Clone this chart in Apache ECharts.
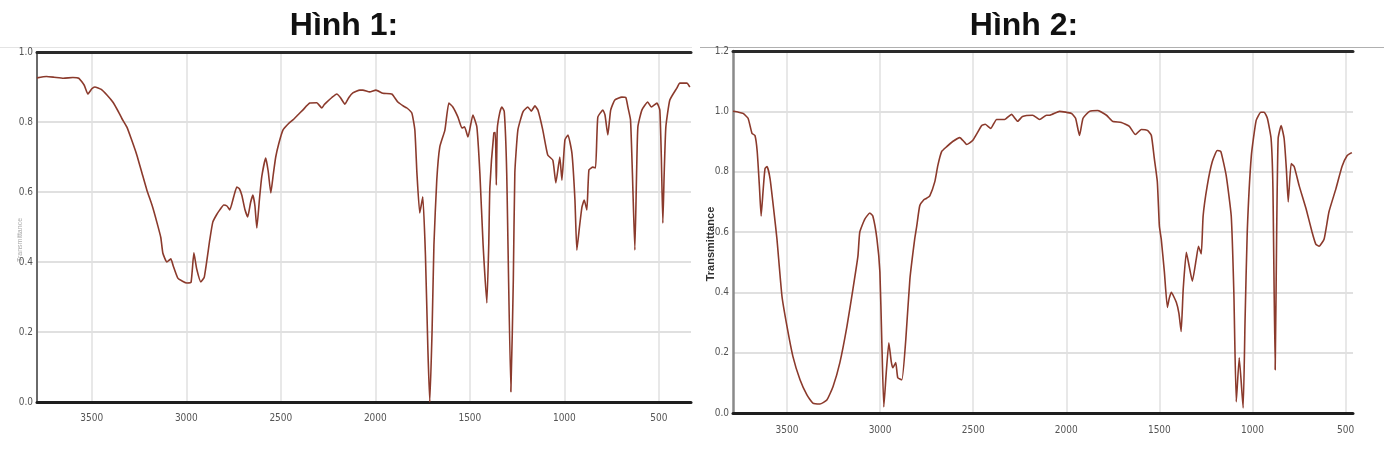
<!DOCTYPE html>
<html>
<head>
<meta charset="utf-8">
<script src="https://cdn.jsdelivr.net/npm/echarts@6/dist/echarts.min.js"></script>
<style>
html,body{margin:0;padding:0;background:#fff;}
#c{width:1384px;height:454px;}
</style>
</head>
<body>
<div id="c"></div>
<script>
// Hình 1 spectrum: wavenumber (cm-1) and transmittance
const wn1 = [3790,3740,3700,3650,3600,3569,3540,3521,3500,3484,3450,3420,3389,3360,3341,3315,3290,3262,3235,3209,3180,3156,3135,3124,3103,3082,3070,3045,3020,2997,2975,2960,2945,2923,2905,2876,2860,2840,2823,2802,2785,2770,2750,2733,2720,2706,2690,2675,2660,2648,2637,2627,2613,2601,2580,2567,2553,2540,2527,2510,2489,2460,2436,2410,2384,2347,2310,2283,2270,2257,2230,2204,2185,2161,2140,2119,2082,2066,2030,1997,1960,1913,1881,1850,1833,1807,1791,1780,1765,1749,1735,1722,1712,1700,1690,1675,1659,1632,1611,1590,1563,1542,1528,1510,1484,1463,1447,1430,1410,1400,1394,1373,1365,1360,1355,1342,1331,1318,1305,1283,1270,1262,1246,1219,1193,1175,1156,1140,1114,1088,1061,1045,1024,1013,997,981,960,944,934,920,907,895,881,870,849,835,823,796,785,770,755,733,696,675,664,650,640,627,618,611,590,559,540,510,495,487,479,472,463,442,405,389,352,336];
const t1 = [0.926,0.93,0.928,0.925,0.927,0.925,0.905,0.88,0.895,0.9,0.893,0.877,0.857,0.83,0.81,0.786,0.75,0.706,0.655,0.606,0.56,0.514,0.47,0.425,0.40,0.409,0.39,0.354,0.345,0.34,0.342,0.426,0.38,0.343,0.357,0.463,0.514,0.535,0.549,0.563,0.56,0.549,0.585,0.614,0.61,0.59,0.55,0.529,0.57,0.591,0.56,0.497,0.58,0.643,0.697,0.66,0.597,0.65,0.70,0.74,0.777,0.795,0.806,0.82,0.834,0.854,0.855,0.84,0.85,0.857,0.87,0.88,0.87,0.851,0.87,0.883,0.891,0.891,0.886,0.891,0.882,0.88,0.857,0.845,0.84,0.826,0.777,0.654,0.54,0.586,0.42,0.15,0.0,0.2,0.45,0.634,0.729,0.777,0.854,0.843,0.814,0.783,0.786,0.757,0.82,0.786,0.654,0.45,0.283,0.45,0.614,0.769,0.77,0.62,0.78,0.826,0.843,0.83,0.654,0.029,0.35,0.654,0.777,0.829,0.843,0.831,0.846,0.834,0.777,0.706,0.691,0.626,0.70,0.634,0.749,0.763,0.711,0.577,0.434,0.50,0.557,0.577,0.549,0.663,0.671,0.669,0.814,0.834,0.82,0.763,0.834,0.863,0.871,0.87,0.843,0.806,0.654,0.434,0.65,0.786,0.834,0.857,0.843,0.854,0.834,0.7,0.511,0.65,0.786,0.863,0.897,0.911,0.911,0.9];

// Hình 2 spectrum
const wn2 = [3790,3760,3736,3709,3688,3672,3660,3648,3639,3628,3618,3607,3591,3570,3554,3527,3500,3468,3430,3393,3361,3323,3286,3253,3216,3178,3146,3119,3109,3082,3055,3039,3017,3001,2991,2980,2967,2953,2940,2932,2916,2905,2883,2862,2840,2814,2803,2787,2765,2750,2733,2706,2690,2669,2642,2610,2572,2550,2535,2503,2454,2435,2406,2374,2331,2294,2261,2235,2181,2143,2106,2090,2036,1972,1950,1929,1910,1875,1832,1784,1752,1704,1661,1629,1597,1564,1543,1527,1511,1500,1490,1473,1457,1447,1436,1409,1395,1383,1372,1355,1340,1323,1302,1290,1275,1265,1243,1216,1189,1170,1141,1114,1100,1087,1071,1050,1040,1028,1006,980,955,937,920,900,890,878,870,862,846,830,818,808,792,776,749,712,680,660,642,615,589,552,519,492,466];
const t2 = [1.0,0.997,0.993,0.977,0.927,0.92,0.867,0.75,0.653,0.74,0.81,0.817,0.777,0.667,0.577,0.387,0.287,0.187,0.11,0.06,0.033,0.03,0.043,0.087,0.167,0.287,0.41,0.52,0.6,0.643,0.663,0.653,0.577,0.467,0.243,0.02,0.133,0.233,0.17,0.15,0.167,0.117,0.11,0.243,0.443,0.577,0.62,0.687,0.707,0.712,0.72,0.767,0.82,0.867,0.883,0.9,0.913,0.9,0.89,0.903,0.953,0.957,0.943,0.973,0.973,0.99,0.967,0.983,0.987,0.973,0.987,0.987,1.0,0.993,0.977,0.92,0.977,1.0,1.003,0.987,0.967,0.963,0.95,0.923,0.94,0.937,0.92,0.843,0.767,0.62,0.577,0.467,0.35,0.38,0.4,0.367,0.33,0.27,0.41,0.533,0.487,0.437,0.51,0.553,0.527,0.653,0.753,0.833,0.87,0.867,0.787,0.653,0.4,0.037,0.183,0.017,0.3,0.6,0.853,0.97,0.997,0.997,0.977,0.91,0.743,0.143,0.6,0.91,0.953,0.91,0.81,0.70,0.827,0.817,0.753,0.677,0.6,0.56,0.553,0.577,0.667,0.743,0.817,0.853,0.863];

const titles = ['Hình 1:', 'Hình 2:'];
const yName = 'Transmittance';

const lineColor = '#8b3a2c';
const labelFont = '"Liberation Sans Narrow", "DejaVu Sans Condensed", sans-serif';

function xAxisBottom(gi, min, max, margin) {
  return {
    type: 'value', gridIndex: gi, inverse: true, min: min, max: max, splitNumber: 7,
    position: 'bottom',
    axisLine: {show: true, onZero: false, lineStyle: {color: '#1e1e1e', width: 3}},
    axisTick: {show: false},
    axisLabel: {showMinLabel: false, showMaxLabel: false, fontSize: 10, color: '#555', margin: margin,
      fontFamily: labelFont, formatter: v => String(Math.round(v))},
    splitLine: {show: true, showMinLine: false, showMaxLine: false, lineStyle: {color: '#e0e0e0', width: 1.5}}
  };
}
function xAxisTop(gi, min, max) {
  return {
    type: 'value', gridIndex: gi, inverse: true, min: min, max: max, position: 'top',
    axisLine: {show: true, onZero: false, lineStyle: {color: '#2a2a2a', width: 3}},
    axisTick: {show: false}, axisLabel: {show: false}, splitLine: {show: false}
  };
}
function yAxis(gi, max, lineCol, lineW) {
  return {
    type: 'value', gridIndex: gi, min: 0, max: max, interval: 0.2,
    axisLine: {show: true, lineStyle: {color: lineCol, width: lineW}},
    axisTick: {show: false},
    axisLabel: {fontSize: 10, color: '#555', margin: 4, fontFamily: labelFont, formatter: v => v.toFixed(1)},
    splitLine: {show: true, lineStyle: {color: '#d6d6d6', width: 1.5}}
  };
}

const chart = echarts.init(document.getElementById('c'), null, {renderer: 'canvas'});
chart.setOption({
  backgroundColor: '#fff',
  animation: false,
  grid: [
    {left: 37, top: 52, width: 654, height: 350},
    {left: 733, top: 51, width: 620, height: 362}
  ],
  xAxis: [xAxisBottom(0, 330, 3790, 11), xAxisTop(0, 330, 3790), xAxisBottom(1, 460, 3790, 12), xAxisTop(1, 460, 3790)],
  yAxis: [yAxis(0, 1.0, '#6a6a6a', 2), yAxis(1, 1.2, '#8a8a8a', 2.5)],
  graphic: [
    {type: 'line', shape: {x1: 0, y1: 47.5, x2: 692, y2: 47.5}, style: {stroke: '#e4e4e4', lineWidth: 1}},
    {type: 'line', shape: {x1: 700, y1: 47.5, x2: 1384, y2: 47.5}, style: {stroke: '#b0b0b0', lineWidth: 1}},
    {type: 'text', x: 344, y: 26, style: {text: titles[0], font: 'bold 32px "Liberation Sans", Arial, sans-serif', align: 'center', verticalAlign: 'middle', fill: '#111'}},
    {type: 'text', x: 1024, y: 26, style: {text: titles[1], font: 'bold 32px "Liberation Sans", Arial, sans-serif', align: 'center', verticalAlign: 'middle', fill: '#111'}},
    {type: 'text', x: 20, y: 240, rotation: Math.PI / 2, style: {text: yName, font: '7px "Liberation Sans Narrow", sans-serif', align: 'center', verticalAlign: 'middle', fill: '#aaa'}},
    {type: 'text', x: 711, y: 244, rotation: Math.PI / 2, style: {text: yName, font: 'bold 11px "Liberation Sans", sans-serif', align: 'center', verticalAlign: 'middle', fill: '#333'}}
  ],
  series: [
    {type: 'line', xAxisIndex: 0, yAxisIndex: 0, showSymbol: false, smooth: 0.15,
     lineStyle: {color: lineColor, width: 1.6}, data: wn1.map((w, i) => [w, t1[i]])},
    {type: 'line', xAxisIndex: 2, yAxisIndex: 1, showSymbol: false, smooth: 0.15,
     lineStyle: {color: lineColor, width: 1.6}, data: wn2.map((w, i) => [w, t2[i]])}
  ]
});
</script>
</body>
</html>
